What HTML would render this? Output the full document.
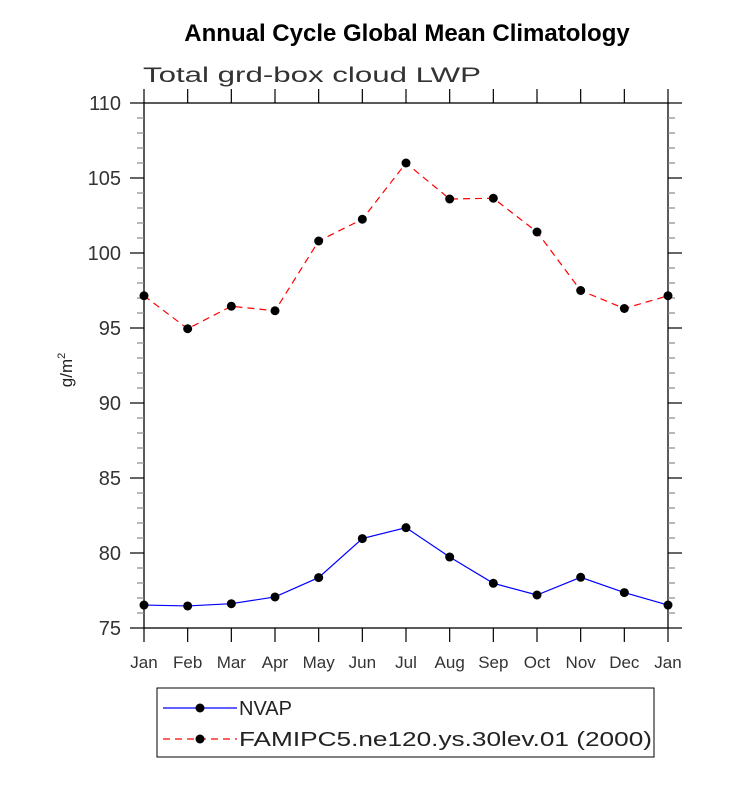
<!DOCTYPE html>
<html><head><meta charset="utf-8"><style>
body{margin:0;background:#fff;}
svg text{font-family:"Liberation Sans","DejaVu Sans",sans-serif;}
</style></head><body>
<svg width="733" height="780" viewBox="0 0 733 780" xmlns="http://www.w3.org/2000/svg">
<text x="407" y="41" font-size="24" font-weight="bold" text-anchor="middle">Annual Cycle Global Mean Climatology</text>
<text x="143" y="82" font-size="21" fill="#333" textLength="338" lengthAdjust="spacingAndGlyphs">Total grd-box cloud LWP</text>
<g id="axes"></g>
<g id="series"></g>
<text transform="translate(72,370) rotate(-90)" font-size="17" text-anchor="middle" fill="#222">g/m<tspan dy="-7" font-size="11">2</tspan></text>
<g>
<rect x="157" y="688" width="497" height="69" fill="none" stroke="#000" stroke-width="1"/>
<g>
<line x1="163" y1="708" x2="237" y2="708" stroke="#00f" stroke-width="1.2"/>
<circle cx="200" cy="708" r="4.5" fill="#000"/>
<text x="239" y="715" font-size="20" fill="#222">NVAP</text></g>
<g>
<line x1="163" y1="739" x2="237" y2="739" stroke="#f00" stroke-width="1.2" stroke-dasharray="7,5"/>
<circle cx="200" cy="739" r="4.5" fill="#000"/>
<text x="239" y="746" font-size="20" fill="#222" textLength="413" lengthAdjust="spacingAndGlyphs">FAMIPC5.ne120.ys.30lev.01 (2000)</text></g>
</g>
</svg>
<script>
const months=["Jan","Feb","Mar","Apr","May","Jun","Jul","Aug","Sep","Oct","Nov","Dec","Jan"];
const yTicks=[75,80,85,90,95,100,105,110];
const nvap=[76.53,76.47,76.62,77.07,78.36,80.96,81.69,79.73,77.98,77.2,78.38,77.36,76.53];
const famipc5=[97.15,94.95,96.45,96.15,100.8,102.25,106.0,103.6,103.65,101.4,97.5,96.3,97.15];
const NS="http://www.w3.org/2000/svg";
const L=144,R=668,T=103,B=628,ymin=75,ymax=110;
const xs=i=>L+(R-L)*i/(months.length-1);
const ys=v=>B-(B-T)*(v-ymin)/(ymax-ymin);
function mk(tag,attrs,parent){const e=document.createElementNS(NS,tag);for(const k in attrs)e.setAttribute(k,attrs[k]);parent.appendChild(e);return e;}
const ax=document.getElementById('axes');
const frame=mk('rect',{x:L,y:T,width:R-L,height:B-T,fill:'none',stroke:'#000','stroke-width':1.3},ax);


months.forEach((m,i)=>{
  const x=xs(i);
  mk('line',{x1:x,y1:B,x2:x,y2:B+14,stroke:'#000','stroke-width':1.2},ax);
  mk('line',{x1:x,y1:T,x2:x,y2:T-14,stroke:'#000','stroke-width':1.2},ax);
  const t=mk('text',{x:x,y:B+40,'font-size':17,'text-anchor':'middle',fill:'#333'},ax);
  t.textContent=m;
  
  
});
for(let v=ymin;v<=ymax;v+=1){
  const y=ys(v);const major=(v%5===0);const len=major?14:7;
  mk('line',{x1:L-len,y1:y,x2:L,y2:y,stroke:major?'#000':'#888','stroke-width':1.2},ax);
  mk('line',{x1:R,y1:y,x2:R+len,y2:y,stroke:major?'#000':'#888','stroke-width':1.2},ax);
}
yTicks.forEach(v=>{
  const t=mk('text',{x:121,y:ys(v)+7,'font-size':20,'text-anchor':'end',fill:'#333'},ax);
  t.textContent=v;
  
  
});
const sg=document.getElementById('series');
function series(vals,color,dash,name){
  const g=mk('g',{},sg);
  
  
  const pl=mk('polyline',{points:vals.map((v,i)=>xs(i)+','+ys(v)).join(' '),fill:'none',stroke:color,'stroke-width':1.2},g);
  if(dash)pl.setAttribute('stroke-dasharray',dash);
  vals.forEach((v,i)=>{
    const c=mk('circle',{cx:xs(i),cy:ys(v),r:4.5,fill:'#000'},g);
    
    
  });
}
series(nvap,'#00f',null,'nvap-series');
series(famipc5,'#f00','7,5','famipc5-series');
</script>
</body></html>
